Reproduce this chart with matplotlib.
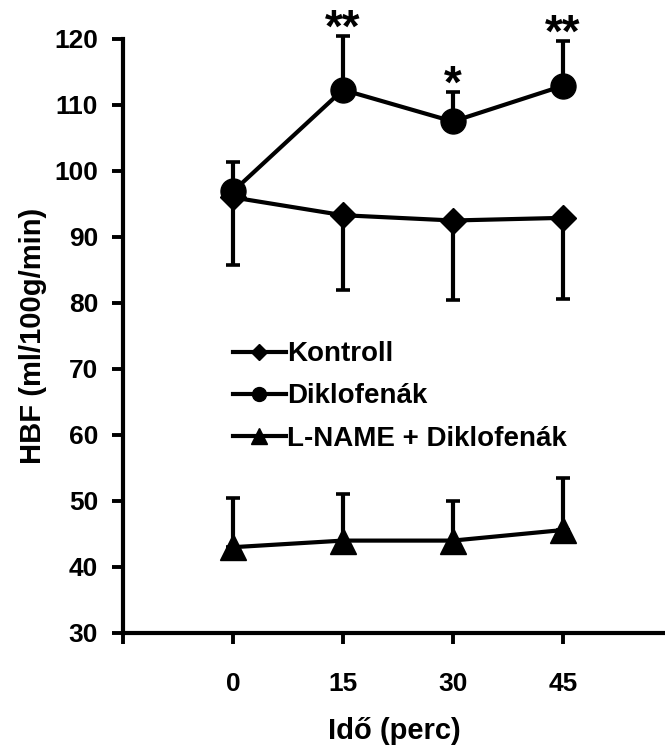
import matplotlib
matplotlib.use("Agg")
import matplotlib.pyplot as plt
from matplotlib.lines import Line2D

# data
times = ["0", "15", "30", "45"]
kontroll = [96.0, 93.3, 92.5, 92.9]
kontroll_err = [10.2, 11.4, 12.0, 12.3]      # lower only
diklo = [96.9, 112.3, 107.5, 112.9]
diklo_err = [4.4, 8.1, 4.4, 6.8]             # upper only
lname = [43.0, 44.0, 44.0, 45.6]
lname_err = [7.4, 7.0, 6.0, 7.9]             # upper only
stars = ["", "**", "*", "**"]
labels = ["Kontroll", "Diklofenák", "L-NAME + Diklofenák"]
markers = ["D", "o", "^"]

plt.rcParams.update({"font.family": "Liberation Sans", "font.weight": "bold"})
fig = plt.figure(figsize=(6.65, 7.49), dpi=100)
ax = fig.add_axes([123 / 665, 116 / 749, 542 / 665, 594 / 749])
x = list(range(len(times)))

lw = 3.0
common = dict(color="black", lw=lw, elinewidth=lw, capsize=5, capthick=2.6, clip_on=False)
ax.errorbar(x, kontroll, yerr=[kontroll_err, [0] * 4], marker="D", ms=13, **common)
ax.errorbar(x, diklo, yerr=[[0] * 4, diklo_err], marker="o", ms=18, **common)
ax.errorbar(x, lname, yerr=[[0] * 4, lname_err], marker="^", ms=19, **common)

# significance stars above the Diklofenák caps
for xi, s, v, e in zip(x, stars, diklo, diklo_err):
    if s:
        ax.annotate(s, xy=(xi, v + e), xytext=(0, -4), textcoords="offset points",
                    ha="center", va="baseline", fontsize=33, fontweight="bold",
                    annotation_clip=False)

ax.set_xlim(-1, 3.93)
ax.set_ylim(30, 120)
ax.set_yticks(range(30, 121, 10))
ax.set_xticks([-1] + x)
ax.set_xticklabels([""] + times)
ax.tick_params(labelsize=19, width=2.8, length=8, direction="out")
ax.tick_params(axis="x", pad=20)
ax.tick_params(axis="y", pad=10)
for s in ("top", "right"):
    ax.spines[s].set_visible(False)
for s in ("left", "bottom"):
    ax.spines[s].set_linewidth(3.0)

ax.set_xlabel("Idő (perc)", fontsize=21, fontweight="bold", labelpad=15)
ax.set_ylabel("HBF (ml/100g/min)", fontsize=21, fontweight="bold", labelpad=5)

handles = [Line2D([], [], color="black", lw=lw, marker=m, ms=ms)
           for m, ms in zip(markers, [8, 10, 11])]
ax.legend(handles, labels, loc="upper left", bbox_to_anchor=(0.203, 0.491), frameon=False,
          fontsize=20, handlelength=1.9, handletextpad=0.05,
          labelspacing=0.58, borderaxespad=0, borderpad=0)

fig.savefig("out.png", dpi=100, facecolor="white")
